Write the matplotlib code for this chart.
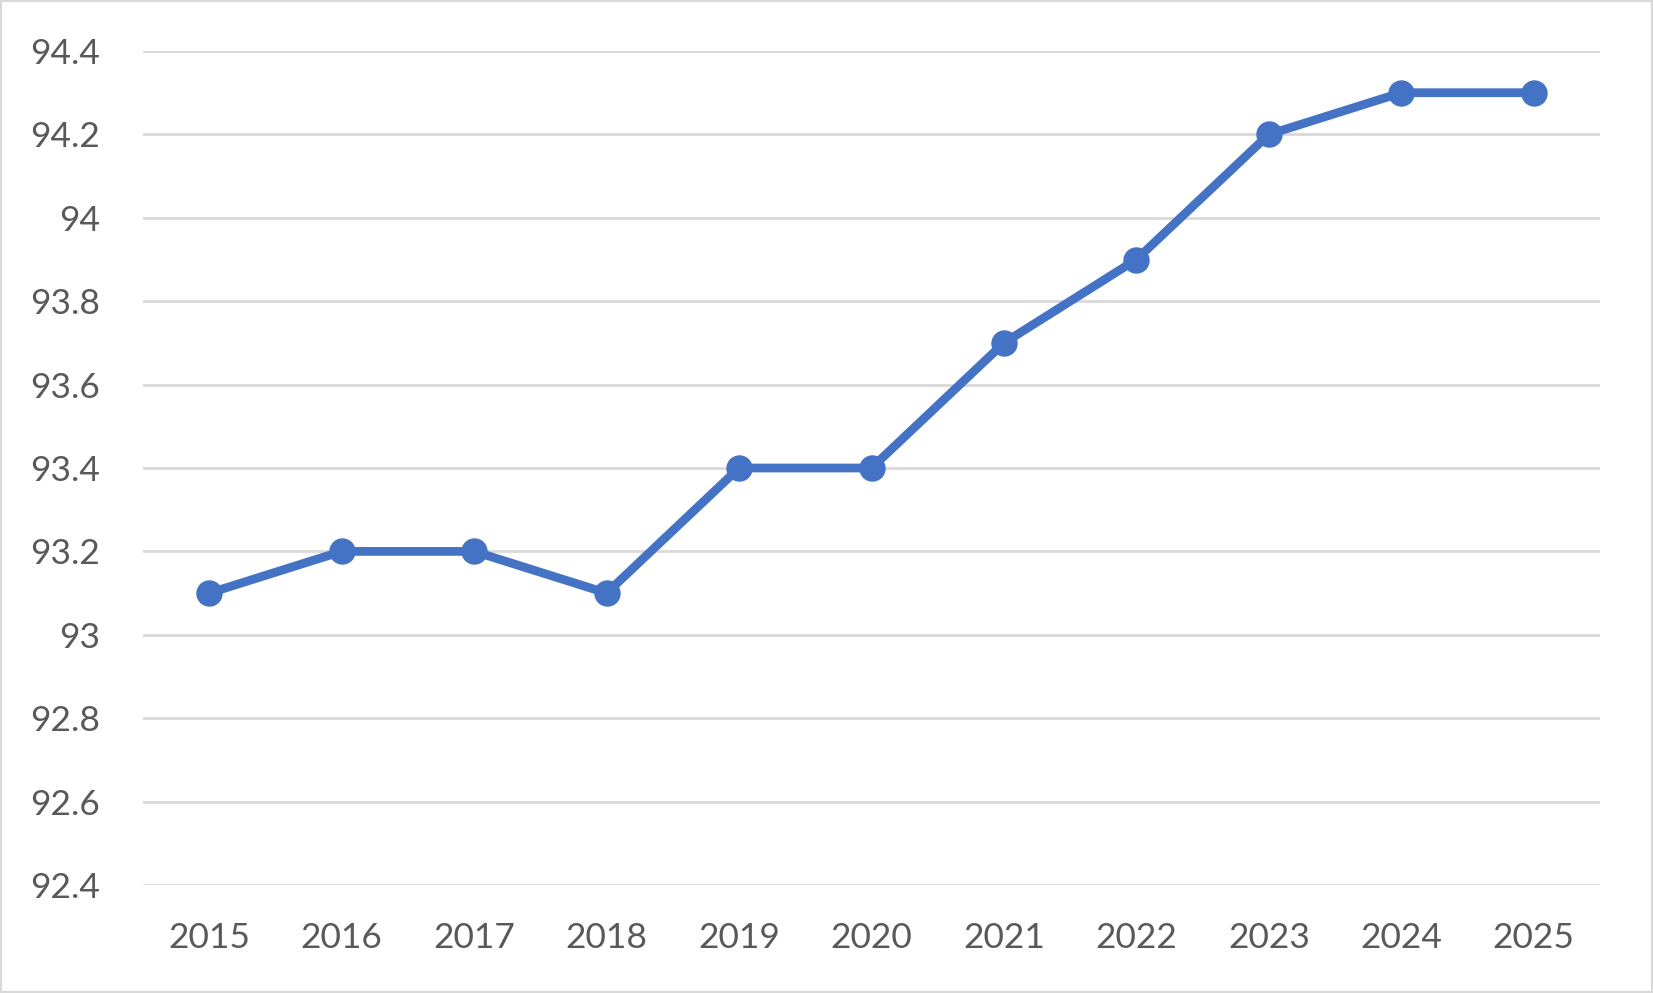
import matplotlib
matplotlib.use("Agg")
import matplotlib.pyplot as plt
from matplotlib.patches import Rectangle

years = ["2015", "2016", "2017", "2018", "2019", "2020", "2021", "2022", "2023", "2024", "2025"]
values = [93.1, 93.2, 93.2, 93.1, 93.4, 93.4, 93.7, 93.9, 94.2, 94.3, 94.3]
yticks = [92.4, 92.6, 92.8, 93.0, 93.2, 93.4, 93.6, 93.8, 94.0, 94.2, 94.4]
ytick_labels = ["92.4", "92.6", "92.8", "93", "93.2", "93.4", "93.6", "93.8", "94", "94.2", "94.4"]

plt.rcParams['font.family'] = ['Lato', 'DejaVu Sans']

W, H = 1653, 993
fig = plt.figure(figsize=(W / 100, H / 100), dpi=100)
ax = fig.add_axes([143 / W, 1 - 885 / H, (1600 - 143) / W, (885 - 51) / H])

x = list(range(len(years)))
ax.plot(x, values, color="#4472C4", linewidth=6.3, marker="o", markersize=18,
        solid_capstyle="round", zorder=3, clip_on=False)

ax.set_xlim(-0.5, len(years) - 0.5)
ax.set_ylim(92.4, 94.4)
ax.set_yticks(yticks)
ax.set_yticklabels(ytick_labels)
ax.set_xticks(x)
ax.set_xticklabels(years)
ax.tick_params(axis="both", length=0, labelsize=25.5, colors="#595959")
ax.tick_params(axis="y", pad=31)
ax.tick_params(axis="x", pad=27)
ax.grid(axis="y", color="#D9D9D9", linewidth=2)
ax.set_axisbelow(True)
for s in ax.spines.values():
    s.set_visible(False)

fig.patches.append(Rectangle((0, 0), 1, 1, transform=fig.transFigure, fill=False,
                             edgecolor="#D9D9D9", linewidth=3))

fig.savefig("out.png", dpi=100)
